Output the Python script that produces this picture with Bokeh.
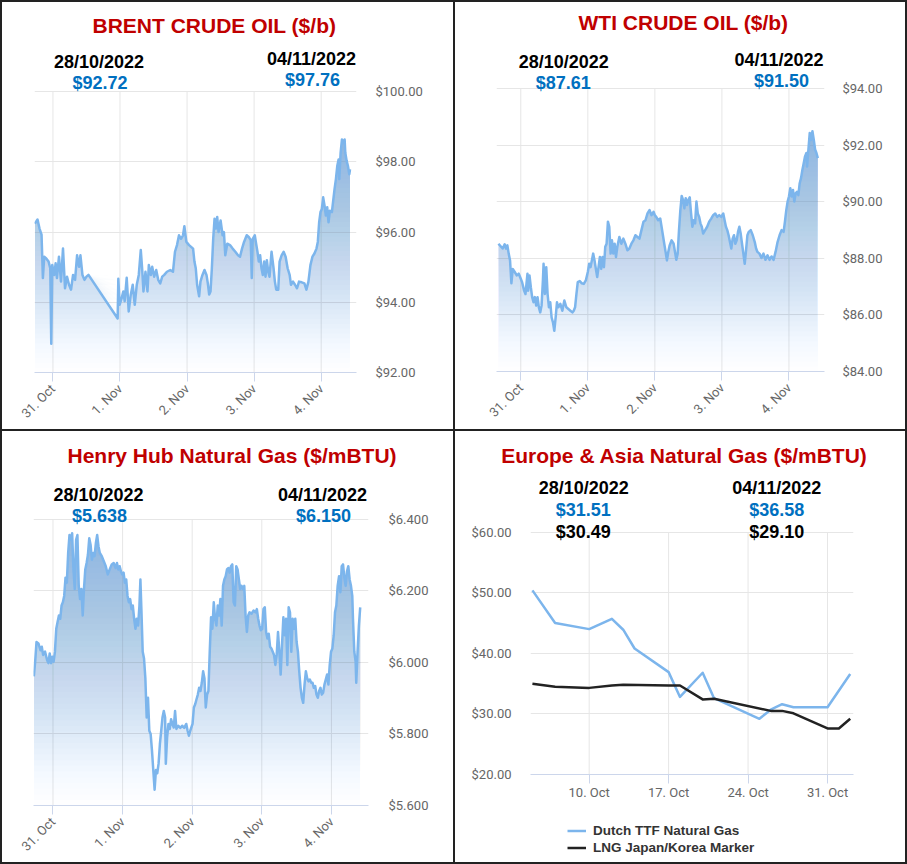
from math import pi
import numpy as np
import pandas as pd
from bokeh.plotting import figure
from bokeh.layouts import row, column
from bokeh.models import Range1d, FixedTicker, Label, Legend, LegendItem, Title
from bokeh.embed import file_html
from bokeh.resources import INLINE

# ---------------- data ----------------
# intraday series: time in days after 31 Oct 2022 00:00
brent_t = [-0.27, -0.23, -0.20, -0.17, -0.15, -0.13, -0.10, -0.065, -0.04, -0.025, -0.01, 0.02, 0.04, 0.06, 0.09,
           0.12, 0.15, 0.18, 0.21, 0.24, 0.27, 0.30, 0.33, 0.36, 0.39, 0.41, 0.44, 0.47, 0.50, 0.53,
           0.965, 0.975, 0.995, 1.025, 1.05, 1.07, 1.10, 1.13, 1.16, 1.19, 1.22, 1.25, 1.28, 1.31, 1.33, 1.35,
           1.38, 1.41, 1.43, 1.46, 1.48, 1.51, 1.54, 1.57, 1.60, 1.63, 1.66, 1.70, 1.75, 1.79, 1.82, 1.85,
           1.88, 1.91, 1.94, 1.96, 1.99, 2.03, 2.09, 2.11, 2.13, 2.15, 2.18, 2.20, 2.23, 2.26, 2.29, 2.31,
           2.33, 2.35, 2.37, 2.39, 2.41, 2.43, 2.45, 2.47, 2.50, 2.53, 2.55, 2.57, 2.60, 2.64, 2.68, 2.72,
           2.76, 2.79, 2.82, 2.85, 2.89, 2.92, 2.95, 2.965, 2.98, 3.01, 3.03, 3.05, 3.07, 3.09, 3.11, 3.13,
           3.15, 3.17, 3.19, 3.21, 3.23, 3.26, 3.29, 3.31, 3.33, 3.36, 3.38, 3.41, 3.44, 3.47, 3.50, 3.53,
           3.55, 3.58, 3.61, 3.64, 3.67, 3.71, 3.75, 3.78, 3.81, 3.84, 3.87, 3.90, 3.93, 3.95, 3.97, 3.99,
           4.01, 4.03, 4.05, 4.07, 4.09, 4.11, 4.13, 4.16, 4.18, 4.20, 4.22, 4.24, 4.26, 4.27, 4.29, 4.31,
           4.33, 4.35, 4.36, 4.38, 4.40, 4.42, 4.43]
brent_v = [96.24, 96.36, 96.10, 95.93, 94.69, 95.30, 95.25, 95.16, 94.97, 92.82, 95.06, 94.78, 95.11, 94.69, 95.30,
           94.59, 95.53, 94.40, 94.73, 94.50, 94.36, 94.78, 94.64, 95.34, 95.01, 95.34, 94.78, 94.64, 94.73, 94.78,
           93.54, 94.67, 93.93, 94.12, 94.31, 94.03, 94.70, 93.74, 94.21, 94.50, 93.93, 94.50, 94.78, 95.49, 94.97, 94.31,
           94.87, 94.31, 95.06, 94.78, 95.01, 94.73, 94.92, 94.64, 94.54, 94.73, 94.78, 94.87, 94.92, 94.87, 95.44, 95.63,
           95.91, 95.81, 95.91, 96.17, 95.72, 95.63, 95.53, 95.16, 94.97, 94.50, 94.17, 94.59, 94.78, 94.92, 94.78, 94.54,
           94.22, 94.31, 94.97, 95.81, 96.38, 96.10, 96.43, 96.00, 96.33, 95.91, 96.00, 95.34, 95.67, 95.63, 95.53, 95.44,
           95.34, 95.30, 95.53, 95.72, 95.91, 95.86, 95.77, 94.69, 95.81, 95.91, 95.67, 95.44, 95.16, 95.34, 94.97, 94.78,
           95.16, 94.73, 95.20, 94.87, 94.73, 95.44, 94.97, 94.59, 94.36, 94.36, 95.16, 95.34, 95.44, 95.30, 94.97, 94.78,
           94.50, 94.59, 94.50, 94.40, 94.59, 94.57, 94.54, 94.36, 94.59, 95.06, 95.30, 95.39, 95.53, 95.72, 96.28, 96.57,
           96.66, 96.99, 96.76, 96.47, 96.71, 96.28, 96.61, 96.57, 96.90, 97.23, 97.51, 97.88, 98.07, 97.51, 98.26, 98.64,
           98.54, 98.64, 98.26, 98.03, 97.88, 97.65, 97.79]

wti_t = [-0.333, -0.30, -0.27, -0.24, -0.22, -0.20, -0.18, -0.16, -0.14, -0.12, -0.09, -0.06, -0.03, 0.00, 0.02,
         0.05, 0.07, 0.10, 0.11, 0.13, 0.15, 0.17, 0.19, 0.21, 0.23, 0.25, 0.27, 0.29, 0.31, 0.33, 0.34, 0.36,
         0.38, 0.40, 0.42, 0.44, 0.46, 0.48, 0.50, 0.52, 0.54, 0.56, 0.59, 0.62, 0.65, 0.68, 0.71, 0.74, 0.77,
         0.79, 0.81, 0.83, 0.85, 0.88, 0.91, 0.94, 0.97, 1.00, 1.02, 1.04, 1.06, 1.08, 1.10, 1.12, 1.14, 1.16,
         1.18, 1.20, 1.22, 1.24, 1.26, 1.28, 1.30, 1.32, 1.34, 1.36, 1.38, 1.40, 1.42, 1.44, 1.47, 1.50, 1.53,
         1.56, 1.59, 1.62, 1.65, 1.68, 1.71, 1.74, 1.77, 1.80, 1.83, 1.86, 1.89, 1.92, 1.95, 1.98, 2.00, 2.02,
         2.05, 2.08, 2.10, 2.12, 2.14, 2.16, 2.18, 2.20, 2.22, 2.25, 2.28, 2.30, 2.32, 2.34, 2.36, 2.38, 2.40,
         2.42, 2.44, 2.46, 2.48, 2.50, 2.52, 2.54, 2.56, 2.58, 2.60, 2.62, 2.64, 2.66, 2.68, 2.70, 2.72, 2.75,
         2.78, 2.81, 2.84, 2.87, 2.90, 2.93, 2.96, 2.99, 3.02, 3.04, 3.06, 3.08, 3.10, 3.12, 3.14, 3.16, 3.18,
         3.20, 3.22, 3.24, 3.26, 3.28, 3.30, 3.32, 3.34, 3.36, 3.38, 3.40, 3.43, 3.46, 3.49, 3.51, 3.53, 3.56,
         3.59, 3.62, 3.65, 3.68, 3.71, 3.74, 3.77, 3.80, 3.83, 3.86, 3.89, 3.92, 3.94, 3.96, 3.98, 4.00, 4.02,
         4.04, 4.06, 4.08, 4.10, 4.12, 4.14, 4.16, 4.18, 4.20, 4.22, 4.24, 4.26, 4.27, 4.29, 4.31, 4.33, 4.35,
         4.37, 4.39, 4.41, 4.43]
wti_v = [88.52, 88.43, 88.35, 88.50, 88.35, 88.46, 88.17, 87.93, 87.12, 87.63, 87.52, 87.40, 87.46, 87.28, 87.16,
         86.86, 86.74, 87.46, 86.86, 87.40, 86.98, 86.63, 86.45, 86.63, 86.33, 86.63, 86.27, 86.09, 86.33, 87.22, 87.81, 86.74,
         87.69, 86.74, 86.27, 86.45, 85.91, 85.74, 85.44, 85.91, 86.45, 86.27, 86.39, 86.15, 86.51, 86.27, 86.21, 86.15, 86.09,
         86.15, 86.27, 86.74, 87.16, 87.20, 87.12, 87.10, 87.22, 87.52, 87.81, 87.69, 87.93, 88.17, 87.93, 87.63, 87.34, 87.69,
         88.05, 87.63, 88.05, 87.69, 88.41, 88.52, 89.30, 89.12, 88.17, 88.64, 88.17, 88.52, 88.05, 88.41, 88.76, 88.52, 88.70,
         88.52, 88.29, 88.35, 88.52, 88.64, 88.82, 88.76, 88.70, 89.00, 89.30, 89.35, 89.59, 89.71, 89.53, 89.65, 89.53, 89.47,
         89.35, 89.41, 89.12, 88.82, 88.52, 88.23, 87.93, 88.23, 88.46, 88.64, 88.52, 88.23, 87.95, 88.17, 89.00, 89.71, 90.21,
         90.07, 89.77, 90.13, 89.89, 90.07, 90.16, 89.59, 89.12, 89.35, 89.24, 90.01, 89.59, 89.47, 89.24, 89.12, 88.88, 89.00,
         89.12, 89.30, 89.41, 89.53, 89.59, 89.47, 89.53, 89.47, 89.59, 89.35, 89.12, 89.00, 88.82, 88.58, 88.35, 88.70, 88.82,
         88.52, 88.64, 88.94, 89.12, 88.88, 88.52, 88.17, 87.81, 88.29, 88.82, 88.94, 89.00, 88.82, 88.58, 88.35, 88.23, 88.17,
         88.02, 88.17, 87.95, 88.11, 87.95, 88.07, 87.95, 88.23, 88.58, 88.82, 89.00, 88.94, 89.30, 89.71, 90.01, 90.19, 90.48,
         90.19, 90.42, 90.01, 90.30, 90.36, 90.24, 90.66, 90.84, 91.13, 91.37, 91.61, 91.73, 91.25, 91.85, 92.44, 92.20, 92.50,
         92.20, 91.85, 91.73, 91.55]

hh_t = [-0.275, -0.256, -0.237, -0.209, -0.18, -0.161, -0.142, -0.114, -0.085, -0.066, -0.047, -0.028, -0.009, 0.009,
        0.028, 0.047, 0.066, 0.085, 0.104, 0.123, 0.142, 0.161, 0.18, 0.199, 0.218, 0.237, 0.256, 0.275, 0.294, 0.313,
        0.332, 0.351, 0.37, 0.389, 0.408, 0.427, 0.445, 0.464, 0.483, 0.502, 0.521, 0.54, 0.559, 0.578, 0.597, 0.616,
        0.635, 0.654, 0.673, 0.701, 0.73, 0.758, 0.787, 0.815, 0.844, 0.872, 0.90, 0.919, 0.938, 0.957, 0.976, 0.995,
        1.014, 1.033, 1.052, 1.071, 1.09, 1.109, 1.128, 1.147, 1.166, 1.185, 1.204, 1.223, 1.242, 1.256, 1.27, 1.289,
        1.308, 1.327, 1.346, 1.365, 1.384, 1.403, 1.422, 1.441, 1.46, 1.479, 1.498, 1.517, 1.536, 1.555, 1.573, 1.592,
        1.611, 1.621, 1.64, 1.659, 1.678, 1.697, 1.716, 1.735, 1.754, 1.773, 1.801, 1.829, 1.858, 1.886, 1.915, 1.934,
        1.953, 1.972, 2.005, 2.024, 2.043, 2.062, 2.081, 2.10, 2.119, 2.138, 2.157, 2.176, 2.195, 2.214, 2.233, 2.252,
        2.271, 2.29, 2.31, 2.329, 2.348, 2.367, 2.386, 2.405, 2.424, 2.443, 2.462, 2.481, 2.50, 2.519, 2.538, 2.557,
        2.576, 2.595, 2.614, 2.633, 2.652, 2.671, 2.69, 2.71, 2.729, 2.748, 2.767, 2.786, 2.805, 2.824, 2.852, 2.881,
        2.91, 2.929, 2.948, 2.967, 2.986, 3.005, 3.024, 3.043, 3.062, 3.081, 3.10, 3.119, 3.138, 3.157, 3.176, 3.195,
        3.214, 3.233, 3.252, 3.271, 3.29, 3.31, 3.329, 3.348, 3.367, 3.386, 3.405, 3.424, 3.443, 3.462, 3.481, 3.50,
        3.519, 3.538, 3.557, 3.576, 3.595, 3.614, 3.633, 3.652, 3.671, 3.69, 3.71, 3.729, 3.748, 3.767, 3.786, 3.805,
        3.824, 3.843, 3.862, 3.881, 3.90, 3.919, 3.938, 3.957, 3.976, 3.995, 4.014, 4.033, 4.052, 4.071, 4.09, 4.11,
        4.129, 4.148, 4.167, 4.186, 4.205, 4.224, 4.243, 4.262, 4.281, 4.30, 4.31, 4.329, 4.348, 4.357, 4.376, 4.395,
        4.414]
hh_v = [5.961, 6.002, 6.057, 6.053, 6.034, 6.044, 6.021, 6.030, 6.007, 5.998, 6.025, 5.998, 6.016, 6.002,
        6.030, 6.094, 6.113, 6.131, 6.122, 6.159, 6.168, 6.186, 6.237, 6.223, 6.306, 6.356, 6.343, 6.361, 6.260, 6.205,
        6.343, 6.356, 6.214, 6.177, 6.205, 6.131, 6.205, 6.260, 6.278, 6.301, 6.347, 6.329, 6.287, 6.306, 6.297, 6.333,
        6.356, 6.324, 6.306, 6.297, 6.283, 6.269, 6.246, 6.260, 6.274, 6.278, 6.264, 6.278, 6.260, 6.269, 6.255, 6.246,
        6.251, 6.223, 6.232, 6.186, 6.168, 6.177, 6.149, 6.159, 6.122, 6.094, 6.122, 6.103, 6.159, 6.232, 6.149, 6.030,
        6.011, 5.956, 5.846, 5.901, 5.809, 5.800, 5.754, 5.699, 5.644, 5.699, 5.690, 5.717, 5.772, 5.809, 5.846, 5.864,
        5.846, 5.717, 5.791, 5.828, 5.814, 5.841, 5.828, 5.818, 5.864, 5.814, 5.823, 5.817, 5.823, 5.817, 5.828, 5.809,
        5.795, 5.809, 5.828, 5.874, 5.883, 5.897, 5.910, 5.929, 5.920, 5.943, 5.975, 5.956, 5.874, 5.910, 5.920, 6.030,
        6.126, 6.094, 6.168, 6.122, 6.103, 6.159, 6.131, 6.177, 6.103, 6.214, 6.232, 6.241, 6.260, 6.264, 6.251, 6.269,
        6.274, 6.168, 6.159, 6.269, 6.260, 6.232, 6.205, 6.214, 6.205, 6.214, 6.131, 6.085, 6.131, 6.140, 6.136, 6.145,
        6.140, 6.149, 6.122, 6.103, 6.090, 6.094, 6.149, 6.154, 6.085, 6.067, 6.080, 6.044, 6.039, 6.030, 6.021, 5.993,
        6.021, 6.085, 6.030, 5.966, 6.048, 6.126, 6.076, 6.122, 5.993, 6.154, 6.140, 6.030, 6.122, 6.094, 6.122, 6.057,
        6.030, 5.975, 5.929, 5.901, 5.887, 5.938, 5.975, 5.956, 5.947, 5.952, 5.943, 5.943, 5.929, 5.934, 5.910, 5.901,
        5.920, 5.929, 5.910, 5.915, 5.938, 5.952, 5.966, 5.938, 5.993, 6.030, 6.039, 6.076, 6.140, 6.159, 6.214, 6.241,
        6.196, 6.269, 6.274, 6.237, 6.214, 6.255, 6.269, 6.232, 6.214, 6.186, 6.122, 6.030, 6.002, 5.943, 6.030, 6.103,
        6.154]

ttf_dates = ["2022-10-05", "2022-10-07", "2022-10-10", "2022-10-12", "2022-10-13", "2022-10-14", "2022-10-17",
             "2022-10-18", "2022-10-20", "2022-10-21", "2022-10-25", "2022-10-26", "2022-10-27", "2022-10-28",
             "2022-10-31", "2022-11-02"]
ttf_vals = [50.4, 45.0, 44.0, 45.7, 43.9, 40.8, 36.9, 32.8, 36.8, 32.6, 29.2, 30.7, 31.6, 31.1, 31.1, 36.6]
lng_dates = ["2022-10-05", "2022-10-07", "2022-10-10", "2022-10-12", "2022-10-13", "2022-10-17", "2022-10-18",
             "2022-10-20", "2022-10-21", "2022-10-26", "2022-10-27", "2022-10-28", "2022-10-31", "2022-11-01",
             "2022-11-02"]
lng_vals = [35.0, 34.5, 34.3, 34.7, 34.8, 34.7, 34.7, 32.4, 32.5, 30.5, 30.5, 30.1, 27.6, 27.6, 29.2]

crude_xticks = [0, 1, 2, 3, 4]
crude_xlabels = ["31. Oct", "1. Nov", "2. Nov", "3. Nov", "4. Nov"]
brent_yticks = [92, 94, 96, 98, 100]
brent_ylabels = ["$92.00", "$94.00", "$96.00", "$98.00", "$100.00"]
wti_yticks = [84, 86, 88, 90, 92, 94]
wti_ylabels = ["$84.00", "$86.00", "$88.00", "$90.00", "$92.00", "$94.00"]
hh_yticks = [5.6, 5.8, 6.0, 6.2, 6.4]
hh_ylabels = ["$5.600", "$5.800", "$6.000", "$6.200", "$6.400"]
eu_xticks = [10, 17, 24, 31]
eu_xlabels = ["10. Oct", "17. Oct", "24. Oct", "31. Oct"]
eu_yticks = [20, 30, 40, 50, 60]
eu_ylabels = ["$20.00", "$30.00", "$40.00", "$50.00", "$60.00"]

titles = ["BRENT CRUDE OIL ($/b)", "WTI CRUDE OIL ($/b)", "Henry Hub Natural Gas ($/mBTU)",
          "Europe & Asia Natural Gas ($/mBTU)"]
date_from, date_to = "28/10/2022", "04/11/2022"
brent_vals_txt = ["$92.72", "$97.76"]
wti_vals_txt = ["$87.61", "$91.50"]
hh_vals_txt = ["$5.638", "$6.150"]
ttf_vals_txt = ["$31.51", "$36.58"]
lng_vals_txt = ["$30.49", "$29.10"]
legend_labels = ["Dutch TTF Natural Gas", "LNG Japan/Korea Marker"]

# ---------------- styling ----------------
RED = "#C00000"
BLUE_TXT = "#0070C0"
LINE_BLUE = "#7cb5ec"
LNG_COLOR = "#222222"
GRID = "#e6e6e6"
AXIS = "#ccd6eb"
TICK_TXT = "#666666"


def base_figure(w, h, **kw):
    p = figure(width=w, height=h, output_backend="svg", toolbar_location=None, title=None, **kw)
    if "frame_align" in p.properties():
        p.frame_align = False
    p.outline_line_color = None
    p.background_fill_color = "white"
    p.border_fill_color = "white"
    p.styles = {"background-color": "white"}
    return p


def make_panel(spec, yticks, yside):
    W, H = spec["size"]
    l, r, t, ct, cb = spec["l"], spec["r"], spec["t"], spec["ct"], spec["cb"]
    y0, y1 = yticks[0], yticks[-1]
    # frame extends above the top tick so that the header texts sit inside it
    y_top = y1 + (y1 - y0) * (ct - t) / (cb - ct)
    return base_figure(W, H, x_range=Range1d(*spec["xr"]), y_range=Range1d(y0, y_top), y_axis_location=yside,
                       min_border_left=l, min_border_right=W - r, min_border_top=t, min_border_bottom=H - cb)


def style_axes(p, spec, xticks, xlabels, yticks, ylabels, rotate):
    xa = p.xaxis[0]
    ya = p.yaxis[0]
    xa.ticker = FixedTicker(ticks=xticks)
    xa.major_label_overrides = dict(zip(xticks, xlabels))
    xa.axis_line_color = AXIS
    xa.major_tick_line_color = AXIS
    xa.major_tick_in = 0
    xa.major_tick_out = 9
    xa.minor_tick_line_color = None
    xa.major_label_text_font = "Roboto"
    xa.major_label_text_font_size = "13px"
    xa.major_label_text_color = TICK_TXT
    if rotate:
        xa.major_label_orientation = pi / 4
    xa.major_label_standoff = spec["xstand"]
    ya.ticker = FixedTicker(ticks=yticks)
    ya.major_label_overrides = dict(zip(yticks, ylabels))
    ya.axis_line_color = None
    ya.major_tick_line_color = None
    ya.minor_tick_line_color = None
    ya.major_tick_in = 0
    ya.major_tick_out = 0
    ya.major_label_text_font = "Roboto"
    ya.major_label_text_font_size = "13px"
    ya.major_label_text_color = TICK_TXT
    ya.major_label_standoff = spec["ystand"]
    p.xgrid.visible = False
    p.ygrid.grid_line_color = GRID
    # vertical grid lines only between the lowest and highest y tick
    n = len(xticks)
    p.segment(x0=xticks, y0=[yticks[0]] * n, x1=xticks, y1=[yticks[-1]] * n, line_color=GRID, line_width=1)


def add_title(p, spec, text):
    p.add_layout(Title(text=text, align="left", offset=spec["title_x"] - spec["l"], standoff=0,
                       text_font="Liberation Sans", text_font_style="bold", text_font_size="21px",
                       text_color=RED), "above")


def add_text(p, spec, fx, fy, s, color, size=18):
    # fy is the wanted baseline (pixels from the panel top)
    p.add_layout(Label(x=fx - spec["l"], y=spec["cb"] - (fy - 0.358 * size + 2.5), x_units="screen",
                       y_units="screen", text=s, text_align="center", text_baseline="middle",
                       text_font="Liberation Sans", text_font_style="bold",
                       text_font_size=f"{size}px", text_color=color))


def gradient_area(p, x, y, ymin, n=48, top=(120, 172, 224), amax=0.78):
    x = np.asarray(x, float)
    y = np.asarray(y, float)
    ymax = y.max()
    edges = np.linspace(ymin, ymax, n + 1)
    color = "#%02x%02x%02x" % top
    prev = 0.0
    for k in range(n):
        lo = edges[k]
        A = amax * (k + 0.5) / n
        a = 1 - (1 - A) / (1 - prev)
        prev = A
        p.varea(x=x, y1=np.full_like(x, lo), y2=np.maximum(y, lo), fill_color=color, fill_alpha=a)
    p.line(x, y, line_color=LINE_BLUE, line_width=2.5, line_join="round")


def crude_panel(spec, t, v, yticks, ylabels, title, vals_txt):
    p = make_panel(spec, yticks, "right")
    style_axes(p, spec, crude_xticks, crude_xlabels, yticks, ylabels, True)
    gradient_area(p, t, v, yticks[0])
    add_title(p, spec, title)
    (d1x, d1y), (v1x, v1y), (d2x, d2y), (v2x, v2y) = spec["txt"]
    add_text(p, spec, d1x, d1y, date_from, "black")
    add_text(p, spec, v1x, v1y, vals_txt[0], BLUE_TXT)
    add_text(p, spec, d2x, d2y, date_to, "black")
    add_text(p, spec, v2x, v2y, vals_txt[1], BLUE_TXT)
    return p


# panel geometry (pixels inside each panel)
s1 = dict(size=(451, 427), l=32, r=354, t=34, ct=89.7, cb=373, xr=(-0.275, 4.527), xstand=5, ystand=19,
          title_x=90, txt=[(96.5, 66.3), (97.5, 87.3), (309, 63), (310, 84.7)])
s2 = dict(size=(450, 427), l=41, r=369, t=31, ct=86.3, cb=369, xr=(-0.362, 4.53), xstand=5, ystand=18,
          title_x=123, txt=[(108.3, 63), (107.8, 84), (323.5, 61.3), (326, 82)])
s3 = dict(size=(451, 431), l=31, r=366, t=35, ct=88.3, cb=377, xr=(-0.28, 4.533), xstand=5, ystand=20,
          title_x=65, txt=[(96, 70.7), (97, 91.7), (320, 70.7), (321, 91.7)])
s4 = dict(size=(450, 375), l=75, r=398, t=35, ct=100.7, cb=343, xr=(4.83, 33.29), xstand=1, ystand=19,
          title_x=45.7)
LEG_H = 431 - 375

p1 = crude_panel(s1, brent_t, brent_v, brent_yticks, brent_ylabels, titles[0], brent_vals_txt)
p2 = crude_panel(s2, wti_t, wti_v, wti_yticks, wti_ylabels, titles[1], wti_vals_txt)
p3 = crude_panel(s3, hh_t, hh_v, hh_yticks, hh_ylabels, titles[2], hh_vals_txt)

# panel 4: Europe & Asia
base = pd.Timestamp("2022-09-30")
ttf_x = [(pd.Timestamp(d) - base).days for d in ttf_dates]
lng_x = [(pd.Timestamp(d) - base).days for d in lng_dates]
p4 = make_panel(s4, eu_yticks, "left")
style_axes(p4, s4, eu_xticks, eu_xlabels, eu_yticks, eu_ylabels, False)
p4.line(ttf_x, ttf_vals, line_color=LINE_BLUE, line_width=2.5, line_join="round")
p4.line(lng_x, lng_vals, line_color=LNG_COLOR, line_width=2.5, line_join="round")
add_title(p4, s4, titles[3])
add_text(p4, s4, 128.2, 60.7, date_from, "black")
add_text(p4, s4, 127.8, 82.3, ttf_vals_txt[0], BLUE_TXT)
add_text(p4, s4, 127.8, 104, lng_vals_txt[0], "black")
add_text(p4, s4, 321.2, 60.7, date_to, "black")
add_text(p4, s4, 321.2, 82.3, ttf_vals_txt[1], BLUE_TXT)
add_text(p4, s4, 321.2, 104, lng_vals_txt[1], "black")

# legend strip under panel 4: same series drawn out of view, only their legend keys show
pl = base_figure(450, LEG_H, x_range=Range1d(0, 1), y_range=Range1d(0, 1),
                 x_axis_location=None, y_axis_location=None,
                 min_border_left=0, min_border_right=0, min_border_top=0, min_border_bottom=0)
pl.grid.visible = False
k_ttf = pl.line(ttf_x, ttf_vals, line_color=LINE_BLUE, line_width=2.5)
k_lng = pl.line(lng_x, lng_vals, line_color=LNG_COLOR, line_width=2.5)
legend = Legend(items=[LegendItem(label=legend_labels[0], renderers=[k_ttf]),
                       LegendItem(label=legend_labels[1], renderers=[k_lng])],
                location=(112, LEG_H - (399 - 375 - 8.5) - 34), orientation="vertical",
                label_text_font="Liberation Sans", label_text_font_style="bold",
                label_text_font_size="13.5px", label_text_color="#333333",
                glyph_width=19, glyph_height=15, label_height=17, label_standoff=7,
                spacing=0, padding=0, margin=0, border_line_alpha=0, background_fill_alpha=0)
pl.add_layout(legend)

lay = column(row(p1, p2, spacing=2), row(p3, column(p4, pl, spacing=0), spacing=2), spacing=2)
lay.styles = {"background-color": "#222222", "padding": "2px"}

open("out.html", "w").write(file_html(lay, INLINE))
